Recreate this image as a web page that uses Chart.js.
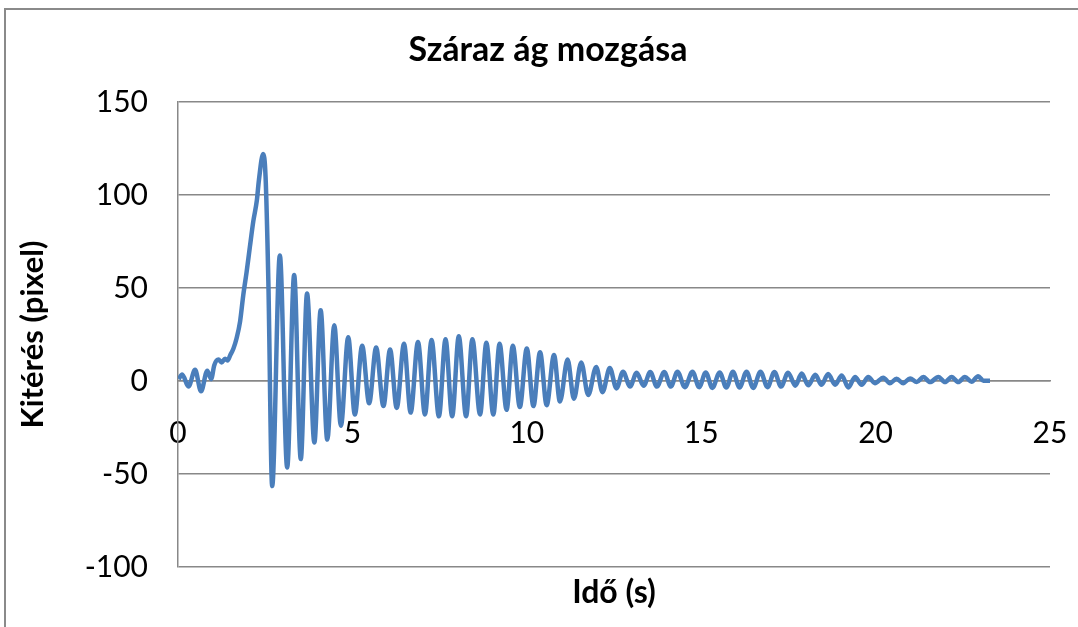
<!DOCTYPE html>
<html>
<head>
<meta charset="utf-8">
<script src="https://cdn.jsdelivr.net/npm/chart.js@4/dist/chart.umd.min.js"></script>
<style>
  html, body { margin: 0; padding: 0; background: #fff; overflow: hidden; }
  #wrap { position: relative; width: 1078px; height: 627px; }
  #frame { position: absolute; left: 4px; top: 8px; width: 1200px; height: 800px;
           border: 2px solid #8a8a8a; box-sizing: border-box; pointer-events: none; }
</style>
</head>
<body>
<div id="wrap">
  <canvas id="c" width="1078" height="627"></canvas>
  <div id="frame"></div>
</div>
<script>
// Measured branch displacement over time (turning points of the swing)
const timeSec = [
  0.02, 0.12, 0.30, 0.49, 0.66, 0.84, 0.95, 1.04, 1.16, 1.25, 1.35, 1.42, 1.50, 1.59, 1.68, 1.78,
  1.87, 1.97, 2.06, 2.16, 2.26, 2.32, 2.44, 2.51, 2.59, 2.70, 2.92, 3.13, 3.33, 3.52, 3.70, 3.91,
  4.09, 4.28, 4.48, 4.67, 4.88, 5.07, 5.28, 5.48, 5.68, 5.89, 6.08, 6.27, 6.48, 6.67, 6.88, 7.08,
  7.27, 7.48, 7.67, 7.86, 8.05, 8.26, 8.44, 8.66, 8.84, 9.04, 9.22, 9.42, 9.60, 9.80, 10.00, 10.19,
  10.38, 10.57, 10.78, 10.95, 11.17, 11.35, 11.56, 11.76, 11.99, 12.17, 12.38, 12.57, 12.76, 12.96,
  13.15, 13.35, 13.54, 13.73, 13.94, 14.13, 14.32, 14.53, 14.75, 14.94, 15.13, 15.32, 15.53, 15.72,
  15.91, 16.10, 16.30, 16.49, 16.70, 16.90, 17.10, 17.29, 17.49, 17.70, 17.88, 18.07, 18.27, 18.45,
  18.64, 18.84, 19.03, 19.22, 19.41, 19.60, 19.79, 19.98, 20.22, 20.41, 20.60, 20.79, 20.99, 21.18,
  21.37, 21.56, 21.80, 21.99, 22.18, 22.37, 22.56, 22.75, 22.94, 23.09, 23.28
];
const displacementPx = [
  1, 3.5, -3, 6, -5.5, 5.5, 1, 8.5, 11.5, 10, 12, 11, 14, 17.5, 23, 32,
  46, 59, 72, 86, 97, 108, 122, 110, 54, -56.5, 67.5, -46.5, 57, -42, 47, -33,
  38, -31.5, 30, -24, 23.5, -18, 19, -12, 18, -13.5, 17, -14.5, 20, -17, 21, -18,
  22, -19, 22.5, -19, 24, -19, 22.5, -18, 20.5, -18, 20, -15.5, 19, -14, 17.5, -13.5,
  15.5, -13, 14, -11, 11.5, -9.5, 10, -7.5, 7.5, -6, 7, -4, 5, -3,
  4.5, -2.5, 4.8, -3, 4.8, -3, 5, -3.3, 5, -3.3, 4.6, -3.7, 4.6, -3.5,
  5, -3.5, 5, -3.7, 5, -3.3, 4.8, -3, 4.5, -2.5, 4, -2.3, 3.3, -2,
  3.8, -2, 3, -3.5, 2.2, -2, 2.2, -1.2, 1.8, -1.2, 1.2, -1.2, 1.4, -0.5,
  2.2, -0.6, 2.2, -0.6, 2.2, -0.6, 2.2, -0.4, 2.5, 0.2, 0.2
];

// Axis ranges and tick steps
const xTicks = [0, 5, 10, 15, 20, 25];
const yTicks = [-100, -50, 0, 50, 100, 150];

const chartTitle = 'Száraz ág mozgása';
const xTitle = 'Idő (s)';
const yTitle = 'Kitérés (pixel)';

const points = timeSec.map((t, i) => ({ x: t, y: displacementPx[i] }));

const FONT = 'Lato, "Open Sans", sans-serif';
const GRID = '#888888';

new Chart(document.getElementById('c'), {
  type: 'line',
  data: {
    datasets: [{
      data: points,
      borderColor: '#4A7EBB',
      borderWidth: 4.5,
      pointRadius: 0,
      fill: false,
      cubicInterpolationMode: 'monotone'
    }]
  },
  options: {
    responsive: false,
    animation: false,
    events: [],
    layout: { padding: { left: 18, right: 0, top: 0, bottom: 60 } },
    plugins: {
      legend: { display: false },
      tooltip: { enabled: false },
      title: {
        display: true,
        text: chartTitle,
        color: '#000',
        font: { family: FONT, size: 34, weight: 'bold', lineHeight: 1.2 },
        padding: { top: 29.6, bottom: 31.6 }
      }
    },
    scales: {
      x: {
        type: 'linear',
        position: { y: 0 },
        min: xTicks[0],
        max: xTicks[xTicks.length - 1],
        afterBuildTicks: (s) => { s.ticks = xTicks.map(v => ({ value: v })); },
        afterFit: (s) => { s.height = 231; s.paddingLeft = 0; s.paddingRight = 28; },
        ticks: { color: '#000', font: { family: FONT, size: 30 }, padding: 34, maxRotation: 0 },
        grid: { color: 'rgba(0,0,0,0)', drawTicks: false },
        border: { display: true, color: GRID, width: 1.5 },
        title: {
          display: true,
          text: xTitle,
          color: '#000',
          font: { family: FONT, size: 32, weight: 'bold' },
          padding: { top: 0, bottom: 0 }
        }
      },
      y: {
        type: 'linear',
        position: 'left',
        min: yTicks[0],
        max: yTicks[yTicks.length - 1],
        afterBuildTicks: (s) => { s.ticks = yTicks.map(v => ({ value: v })); },
        afterFit: (s) => { s.width = 160; },
        ticks: { color: '#000', font: { family: FONT, size: 30 }, padding: 30 },
        grid: { color: GRID, lineWidth: 1.5, drawTicks: false },
        border: { display: true, color: GRID, width: 1.5 },
        title: {
          display: true,
          text: yTitle,
          color: '#000',
          font: { family: FONT, size: 31, weight: 'bold' },
          padding: { top: -3.6, bottom: 0 }
        }
      }
    }
  }
});
</script>
</body>
</html>
